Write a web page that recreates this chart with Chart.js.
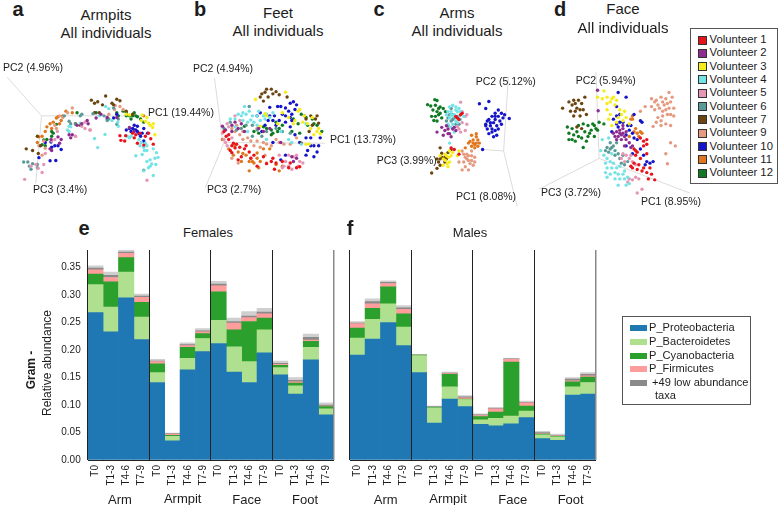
<!DOCTYPE html>
<html>
<head>
<meta charset="utf-8">
<title>Volunteer skin microbiome</title>
<script src="https://cdn.jsdelivr.net/npm/chart.js@4"></script>
<style>
  html, body { margin: 0; padding: 0; background: #fff; }
  #page { position: relative; width: 778px; height: 505px; overflow: hidden; font-family: "Liberation Sans", Arial, sans-serif; color: #1c1c1c; }
  #page canvas { position: absolute; }
  .txt { position: absolute; white-space: nowrap; line-height: 1; }
  .box { position: absolute; border: 1px solid #555; background: #fff; box-sizing: border-box; }
  .swatch { position: absolute; box-sizing: border-box; }
</style>
</head>
<body>
<div id="page"></div>
<script>
// bars
const categories = ['T0','T1-3','T4-6','T7-9','T0','T1-3','T4-6','T7-9','T0','T1-3','T4-6','T7-9','T0','T1-3','T4-6','T7-9'];
const yTicks = [0, 0.05, 0.10, 0.15, 0.20, 0.25, 0.30, 0.35];
const taxa = ['P_Proteobacteria', 'P_Bacteroidetes', 'P_Cyanobacteria', 'P_Firmicutes', '+49 low abundance'];
const taxaColors = ['#1f77b4', '#aee08f', '#2ca02c', '#ff9d9d', '#8a8a8a'];

const femaleProteo = [.268,.233,.295,.219,.141,.035,.164,.197,.212,.160,.141,.195,.155,.120,.182,.082];
const femaleBacter = [.051,.045,.047,.041,.018,.008,.021,.024,.042,.046,.038,.042,.013,.015,.023,.011];
const femaleCyano  = [.019,.046,.026,.027,.016,.002,.020,.009,.052,.031,.073,.021,.004,.005,.011,.004];
const femaleFirmi  = [.008,.008,.008,.009,.004,.002,.003,.003,.011,.012,.007,.008,.002,.002,.002,.001];
const femaleLowA   = [.003,.004,.002,.002,.001,.001,.002,.002,.003,.003,.003,.003,.002,.003,.005,.002];
const femaleLowB   = [.004,.006,.004,.004,.003,.001,.003,.004,.005,.006,.008,.007,.004,.005,.006,.004];

const maleProteo = [.191,.220,.250,.208,.159,.067,.111,.097,.065,.062,.066,.077,.039,.036,.118,.120];
const maleBacter = [.031,.036,.034,.034,.031,.028,.022,.013,.008,.014,.014,.012,.007,.006,.015,.021];
const maleCyano  = [.018,.020,.031,.024,.001,.001,.023,.001,.006,.011,.098,.009,.001,.001,.009,.010];
const maleFirmi  = [.008,.008,.006,.008,.000,.000,.001,.002,.002,.006,.005,.006,.001,.001,.002,.002];
const maleLowA   = [.001,.004,.002,.003,.000,.001,.001,.002,.001,.001,.001,.001,.002,.001,.003,.003];
const maleLowB   = [.003,.005,.003,.004,.001,.001,.002,.002,.002,.002,.001,.002,.002,.002,.003,.003];

// PCoA, one list per volunteer, same order as the legend
const volunteers = ['Volunteer 1','Volunteer 2','Volunteer 3','Volunteer 4','Volunteer 5','Volunteer 6','Volunteer 7','Volunteer 9','Volunteer 10','Volunteer 11','Volunteer 12'];
const volunteerColors = ['#e8121b','#8e2c90','#f5ec1a','#74e3e6','#e795b5','#5a9b97','#6b4410','#e59a80','#1414c8','#e0761e','#0f7a22'];

const armpitsPts = [
  [[368,423],[383,408],[365,408],[405,400],[410,415],[420,432],[470,435],[428,400],[455,400],[445,410],[440,438],[462,418],[380,425],[415,405]],
  [[145,450],[170,412],[205,405],[210,415],[175,432],[245,370],[262,360],[290,352],[305,340],[325,350],[395,382],[230,375],[148,420],[150,455],[215,405],[265,370],[355,350],[410,395],[180,420]],
  [[435,342],[445,362],[455,368],[470,370],[468,382],[475,405],[385,340],[432,360],[460,375],[450,350],[395,342]],
  [[285,417],[295,446],[318,404],[330,322],[320,315],[358,365],[388,410],[400,410],[415,472],[425,420],[432,430],[440,445],[450,455],[470,450],[475,480],[485,477],[460,485],[465,498],[478,500],[455,510],[440,520],[470,535],[460,505],[205,378],[200,390],[205,395],[340,360],[360,378],[445,432],[435,468],[450,490],[480,462],[442,455],[428,440],[450,440],[395,415],[210,380],[240,368],[300,345]],
  [[65,547],[120,525],[108,512],[255,365],[272,390],[225,410],[168,395],[130,465],[100,500],[160,420],[450,550],[85,505],[125,500],[150,425],[245,378],[255,385]],
  [[62,492],[75,492],[90,497],[85,515],[105,500],[240,345],[205,362],[345,320],[330,355],[355,372],[225,372],[190,345],[280,338],[440,518],[80,505],[105,510],[210,370],[245,340],[315,345],[325,360],[360,355]],
  [[70,450],[90,455],[108,465],[105,410],[275,295],[285,305],[320,282],[310,310],[355,292],[365,297],[340,305],[225,370],[240,375],[405,340],[385,330],[115,440],[295,300],[300,335],[345,310],[285,335]],
  [[120,470],[130,448],[110,440],[160,375],[185,350],[215,320],[225,410],[175,345],[270,390],[350,312],[375,325],[348,325],[125,425],[200,335],[165,385],[330,340],[365,315]],
  [[110,478],[145,488],[163,487],[160,440],[148,428],[180,452],[170,440],[325,355],[345,352],[405,385],[420,378],[425,402],[410,390],[440,385],[452,400],[395,385],[415,390],[440,425],[430,410],[130,430],[150,445],[355,340],[400,395],[420,395],[435,400],[410,375],[385,390]],
  [[110,412],[130,395],[145,370],[155,365],[170,348],[185,345],[195,330],[105,430],[135,380],[165,352],[175,370],[440,345],[120,410],[180,360],[215,335],[150,385]],
  [[120,437],[125,422],[150,395],[155,400],[230,335],[290,335],[355,335],[375,330],[395,345],[410,335],[415,345],[430,355],[420,348],[400,355],[135,420],[165,372],[130,440],[360,345],[385,345],[385,335],[405,345],[440,365],[150,410]]
];
const feetPts = [
  [[665,395],[672,410],[680,420],[695,432],[700,447],[715,445],[730,450],[745,460],[690,462],[720,475],[750,480],[820,480],[830,495],[850,490],[875,495],[905,507],[690,440],[680,405],[710,485],[790,475],[800,497],[770,505],[825,515],[705,435],[760,470],[735,440],[685,455],[870,510],[895,510],[815,490]],
  [[690,375],[700,365],[710,385],[690,395],[660,378],[790,395],[845,430],[880,475],[885,490],[720,370],[670,390],[730,395],[775,385],[810,385],[895,480]],
  [[765,293],[795,338],[860,270],[905,325],[920,345],[940,385],[960,395],[930,370],[970,402],[925,435],[885,370],[780,378],[835,370],[870,350],[945,350],[800,345],[850,335],[900,330],[915,365],[950,405],[965,385],[935,435],[890,360]],
  [[730,315],[745,330],[735,340],[720,345],[750,358],[770,345],[780,360],[795,355],[725,360],[760,365],[800,420],[880,430],[910,435],[800,340],[700,355],[685,355],[820,335],[740,395],[770,375],[925,370],[710,340],[755,345],[740,365],[790,345],[810,350],[775,330],[700,380],[725,335],[845,395],[870,420]],
  [[670,430],[660,400],[675,370],[700,345],[690,415],[885,475],[905,490],[915,495],[870,505],[880,515],[855,505],[840,470],[870,470],[900,505],[680,380],[665,420],[715,360],[675,440],[895,470],[860,490],[850,510]],
  [[745,315],[665,385],[685,365],[770,390],[755,410],[800,395],[850,395],[875,400],[720,385],[705,390],[735,375],[755,375],[785,410],[830,385]],
  [[780,285],[795,270],[815,260],[830,268],[805,285],[790,298],[865,285],[920,345],[960,345],[940,345],[965,368],[925,355],[910,432],[935,395],[800,260],[785,275],[820,275],[840,278],[955,355],[945,375]],
  [[700,395],[705,375],[725,395],[770,425],[790,430],[800,435],[830,420],[855,435],[740,415],[725,420],[690,480],[710,495],[750,480],[795,470],[800,495],[770,385],[690,385],[715,405],[750,425],[780,445],[815,440],[840,430],[875,435],[895,415],[760,440]],
  [[860,320],[875,305],[885,300],[870,330],[850,340],[875,350],[880,360],[835,315],[810,318],[785,395],[770,345],[830,375],[925,415],[940,415],[950,440],[965,440],[950,475],[930,455],[820,430],[890,405],[860,470],[845,485],[970,415],[895,310],[860,365],[880,340],[805,360],[825,345],[845,315],[860,345],[890,325],[820,360],[795,375],[840,360],[780,335],[940,440],[960,460],[925,470],[905,430],[875,380],[810,345]],
  [[660,420],[695,470],[720,490],[745,520],[775,510],[755,490],[780,490],[745,490],[810,450],[840,520],[725,465],[700,440],[735,470],[770,463],[680,450],[710,460],[760,495],[790,450],[830,500],[850,505],[770,480]],
  [[730,378],[790,380],[820,400],[835,395],[850,375],[910,340],[925,350],[945,355],[815,405],[760,395],[830,365],[905,400],[960,375],[950,370],[885,355],[800,385],[775,400],[840,385],[815,390],[880,395],[930,375],[900,370],[975,395]]
];
const armsPts = [
  [[350,350],[360,340],[355,355],[345,345],[365,335],[330,445],[340,450],[355,465]],
  [[285,395],[305,405],[320,385],[325,400],[330,410],[335,385],[315,375],[345,390],[300,380],[310,390],[320,400],[340,380]],
  [[305,480],[315,470],[325,455],[335,460],[305,500],[320,505],[355,455],[350,470],[325,490],[295,470],[312,485],[318,495],[330,470],[310,465],[322,475]],
  [[325,315],[335,310],[345,315],[355,320],[330,330],[340,340],[350,330],[325,350],[345,360],[335,370],[355,345],[315,340],[360,355],[320,370],[340,395],[325,430],[370,345],[330,340],[345,325],[360,330],[320,330],[350,365],[330,380],[335,345]],
  [[365,330],[380,340],[365,365],[380,370],[375,345],[360,395],[350,378],[355,385],[375,390],[360,300]],
  [[320,350],[335,355],[325,340],[345,370],[330,360],[315,360],[355,370],[330,320],[335,340],[340,350],[350,345],[320,375]],
  [[268,525],[285,510],[295,445],[300,462],[310,475],[320,460],[290,490],[310,490],[330,450],[285,480],[295,480],[300,475],[295,500],[315,480]],
  [[365,455],[380,465],[395,470],[405,475],[385,485],[370,490],[355,490],[375,505],[390,495],[385,515],[365,515],[405,490],[395,455],[375,475],[380,480],[395,485],[370,465],[385,470],[400,500]],
  [[420,305],[450,298],[440,320],[480,325],[490,335],[495,350],[515,352],[470,335],[460,345],[450,355],[470,355],[485,360],[440,370],[455,375],[475,375],[490,370],[445,385],[460,385],[470,390],[450,400],[465,410],[475,405],[430,450],[500,340],[455,365],[465,365],[480,345],[470,345],[445,360],[460,395],[440,375],[480,385]],
  [[395,405],[410,400],[400,420],[415,420],[385,430],[395,440],[405,445],[375,445],[420,430],[410,430],[400,430],[410,410],[390,425],[405,435],[415,440]],
  [[255,308],[265,312],[278,292],[285,295],[295,315],[272,325],[285,330],[305,320],[268,345],[275,358],[290,340],[300,350],[312,330],[280,310],[290,320],[280,345],[295,335],[285,360]]
];
const facePts = [
  [[905,415],[925,420],[925,435],[885,450],[890,470],[925,465],[880,510],[895,515],[910,520],[925,525],[935,510],[930,545],[950,548],[915,440],[895,460],[905,480],[875,505],[890,455],[915,425],[900,500],[915,510],[885,495],[940,530]],
  [[770,263],[772,328],[830,395],[840,390],[850,400],[835,410],[845,420],[855,410],[825,410],[860,395],[850,375],[880,440],[870,430],[850,385],[845,405],[830,420],[860,420],[840,400],[820,400],[875,445],[855,440]],
  [[770,285],[790,265],[800,285],[815,290],[830,295],[825,310],[800,325],[810,340],[840,325],[855,330],[850,360],[815,375],[800,305],[870,370],[785,290],[810,300],[820,285],[835,350],[845,340],[805,355],[830,365],[860,350]],
  [[790,470],[800,480],[810,490],[800,510],[820,495],[830,510],[835,530],[800,540],[825,545],[855,545],[835,565],[870,560],[840,505],[855,520],[815,465],[785,420],[805,415],[780,455],[795,495],[815,510],[825,525],[810,530],[840,545],[850,530],[865,540],[860,565],[795,525]],
  [[890,540],[880,548],[865,555],[895,590],[910,578],[870,480],[860,470],[855,490],[845,480],[880,490],[870,545],[900,545],[875,470],[850,465],[890,500]],
  [[810,430],[815,445],[825,455],[805,460],[835,465],[845,495],[855,500],[800,445],[865,490],[825,470],[820,440],[830,430],[810,450],[840,480],[850,470],[795,455]],
  [[660,320],[695,295],[710,295],[730,285],[690,310],[705,320],[720,305],[700,330],[695,345],[715,345],[735,340],[705,380],[720,385],[680,300],[700,305],[715,325],[725,325],[685,330]],
  [[940,290],[955,295],[970,285],[995,270],[985,290],[1005,285],[960,310],[980,310],[995,320],[1010,320],[940,315],[975,330],[990,340],[1000,340],[955,365],[945,378],[970,375],[1000,375],[975,345],[920,315],[905,330],[1000,430],[1015,440],[985,465],[990,497],[965,320],[950,300],[975,300],[990,305],[1000,300],[950,325],[985,325],[960,350],[985,370],[970,360],[1010,345]],
  [[835,270],[860,285],[830,315],[885,340],[905,360],[820,355],[840,365],[865,375],[870,390],[880,400],[830,345],[815,395],[895,420],[915,470],[935,495],[945,490],[920,500],[880,465],[860,440],[835,380],[910,365],[850,365],[875,375],[830,370],[860,405],[885,415],[905,450],[925,490],[840,340]],
  [[880,355],[890,385],[895,400],[880,345],[905,395],[870,410],[900,410],[885,395],[875,355],[910,400]],
  [[675,380],[690,385],[680,400],[695,405],[710,410],[725,370],[740,375],[755,370],[765,385],[775,365],[720,415],[745,400],[760,410],[725,445],[700,425],[735,425],[790,370],[750,390],[705,395],[730,395],[740,410],[710,375],[770,390],[680,420],[690,420],[760,375]]
];

// the three PC axes of each plot, as end point / origin / end point
const armpitsAxes = [[[10,222],[118,345],[440,345]], [[118,345],[100,560]]];
const feetAxes = [[[635,225],[660,420],[665,430],[985,432]], [[665,430],[605,575]]];
const armsAxes = [[[512,220],[497,455],[430,450]], [[497,455],[540,630]]];
const faceAxes = [[[765,205],[775,480],[1060,590]], [[775,480],[585,578]]];

const page = document.getElementById('page');
const FONT = '"Liberation Sans", Arial, sans-serif';

function addCanvas(left, top, width, height) {
  const c = document.createElement('canvas');
  c.style.left = left + 'px';
  c.style.top = top + 'px';
  c.style.width = width + 'px';
  c.style.height = height + 'px';
  page.appendChild(c);
  return c;
}

function addText(text, x, y, size, opts) {
  opts = opts || {};
  const d = document.createElement('div');
  d.className = 'txt';
  d.textContent = text;
  d.style.left = x + 'px';
  d.style.top = y + 'px';
  d.style.fontSize = size + 'px';
  if (opts.bold) d.style.fontWeight = 'bold';
  let shiftX = opts.center ? '-50%' : '0';
  d.style.transform = 'translate(' + shiftX + ',-50%)' + (opts.rotate ? ' rotate(-90deg)' : '');
  page.appendChild(d);
}

function scatterPanel(pts, axes, box, range) {
  const datasets = [];
  axes.forEach(line => datasets.push({
    type: 'line',
    data: line.map(p => ({ x: p[0], y: p[1] })),
    borderColor: '#dcdcdc',
    borderWidth: 1,
    pointRadius: 0,
    order: 50
  }));
  pts.forEach((list, i) => datasets.push({
    label: volunteers[i],
    data: list.map(p => ({ x: p[0], y: p[1] })),
    backgroundColor: volunteerColors[i],
    borderColor: volunteerColors[i],
    pointRadius: 1.7,
    pointBorderWidth: 0,
    order: i
  }));
  new Chart(addCanvas(box[0], box[1], box[2], box[3]), {
    type: 'scatter',
    data: { datasets },
    options: {
      responsive: false,
      animation: false,
      layout: { padding: 0 },
      plugins: { legend: { display: false }, tooltip: { enabled: false } },
      scales: {
        x: { type: 'linear', display: false, min: range[0], max: range[1] },
        y: { type: 'linear', display: false, min: range[2], max: range[3], reverse: true }
      }
    }
  });
}

function barPanel(series, left, showY) {
  const names = [taxa[0], taxa[1], taxa[2], taxa[3], taxa[4], taxa[4]];
  const colors = [taxaColors[0], taxaColors[1], taxaColors[2], taxaColors[3], taxaColors[4], '#cfcfcf'];
  new Chart(addCanvas(left, 240, 340, 265), {
    type: 'bar',
    data: {
      labels: categories,
      datasets: series.map((values, i) => ({
        label: names[i],
        data: values,
        backgroundColor: colors[i],
        borderWidth: 0,
        barPercentage: 1,
        categoryPercentage: 1,
        stack: 'all'
      }))
    },
    options: {
      responsive: false,
      animation: false,
      layout: { padding: { left: 40, top: 10, right: 6, bottom: 0 } },
      plugins: { legend: { display: false }, tooltip: { enabled: false } },
      scales: {
        x: {
          stacked: true,
          // fixed box so both panels line up, no extra room for the rotated labels
          afterFit: s => { s.height = 45; s.paddingLeft = 0; s.paddingRight = 0; },
          border: { display: false },
          grid: {
            drawTicks: false,
            z: 1,
            // only the group edges are drawn, right edge is the greyer one
            lineWidth: ctx => (ctx.index === undefined ? 1.5 : 1),
            color: ctx => {
              if (ctx.index === undefined) return '#8a8a8a';
              return ctx.index % 4 === 0 ? '#222' : 'rgba(0,0,0,0)';
            }
          },
          ticks: {
            autoSkip: false,
            minRotation: 90,
            maxRotation: 90,
            padding: 5,
            color: '#1c1c1c',
            font: { family: FONT, size: 10 }
          }
        },
        y: {
          stacked: true,
          min: 0,
          max: 0.382,
          afterFit: s => { s.width = 47.7; s.paddingTop = 0; s.paddingBottom = 0; },
          afterBuildTicks: s => { s.ticks = yTicks.map(v => ({ value: v })); },
          border: { display: false },
          grid: {
            z: 1,
            drawTicks: false,
            color: ctx => (ctx.tick && ctx.tick.value === 0 ? '#222' : 'rgba(0,0,0,0)')
          },
          ticks: {
            display: showY,
            padding: 7,
            color: '#1c1c1c',
            font: { family: FONT, size: 10 },
            callback: v => v.toFixed(2)
          }
        }
      }
    }
  });
}

scatterPanel(armpitsPts, armpitsAxes, [0, 60, 170, 140], [0, 510, 180, 600]);
scatterPanel(feetPts, feetAxes, [190, 60, 150, 140], [570, 1020, 180, 600]);
scatterPanel(armsPts, armsAxes, [400, 66, 140, 147], [180, 600, 198, 639]);
scatterPanel(facePts, faceAxes, [530, 63, 170, 140], [570, 1080, 189, 609]);

barPanel([femaleProteo, femaleBacter, femaleCyano, femaleFirmi, femaleLowA, femaleLowB], 0, true);
barPanel([maleProteo, maleBacter, maleCyano, maleFirmi, maleLowA, maleLowB], 261.6, false);

// panel letters
[['a',18,9],['b',200,9],['c',379,9],['d',560,9],['e',84,228],['f',350,228]].forEach(l => addText(l[0], l[1], l[2], 20, { bold: true, center: true }));

// titles
[['Armpits',106,14],['All individuals',106,32],['Feet',278,12],['All individuals',278,30],
 ['Arms',457,12],['All individuals',457,30],['Face',623,8],['All individuals',623,27]].forEach(t => addText(t[0], t[1], t[2], 15, { center: true }));
addText('Females', 208, 232, 13, { center: true });
addText('Males', 470, 232, 13, { center: true });

// PC axis labels
[['PC2 (4.96%)',3,67],['PC1 (19.44%)',148,112],['PC3 (3.4%)',33,189],
 ['PC2 (4.94%)',193,68],['PC1 (13.73%)',330,139],['PC3 (2.7%)',207,189],
 ['PC2 (5.12%)',475.7,81],['PC3 (3.99%)',376.7,160],['PC1 (8.08%)',456,196],
 ['PC2 (5.94%)',575.7,80],['PC3 (3.72%)',541,192],['PC1 (8.95%)',641,200.7]].forEach(t => addText(t[0], t[1], t[2], 10.5));

// group names under the bars
[['Arm',120,499],['Armpit',182.7,498],['Face',246.7,499],['Foot',305,499],
 ['Arm',385.7,499],['Armpit',448,498],['Face',512.7,499],['Foot',570.7,499]].forEach(t => addText(t[0], t[1], t[2], 13, { center: true }));

addText('Gram -', 31, 370, 12, { bold: true, center: true, rotate: true });
addText('Relative abundance', 47, 363, 12, { center: true, rotate: true });

// volunteer legend
const volBox = document.createElement('div');
volBox.className = 'box';
volBox.style.cssText = 'left:690px;top:28px;width:88px;height:156px;';
page.appendChild(volBox);
volunteers.forEach((name, i) => {
  const s = document.createElement('div');
  s.className = 'swatch';
  s.style.cssText = 'left:698px;top:' + (35.5 + i * 13.33) + 'px;height:9px;width:9px;background:' + volunteerColors[i] + ';border:1px solid #333;';
  page.appendChild(s);
  addText(name, 709.5, 40 + i * 13.33, 11.3);
});

// taxa legend
const taxaBox = document.createElement('div');
taxaBox.className = 'box';
taxaBox.style.cssText = 'left:621.5px;top:316px;width:129.5px;height:89px;';
page.appendChild(taxaBox);
taxa.forEach((name, i) => {
  const y = 327.7 + i * 13.9;
  const s = document.createElement('div');
  s.className = 'swatch';
  s.style.cssText = 'left:630px;top:' + (y - 3) + 'px;width:17px;height:6px;background:' + taxaColors[i] + ';';
  page.appendChild(s);
  addText(name, i === 4 ? 652 : 649, y, 11.1);
});
addText('taxa', 655, 396, 11.1);
</script>
</body>
</html>
